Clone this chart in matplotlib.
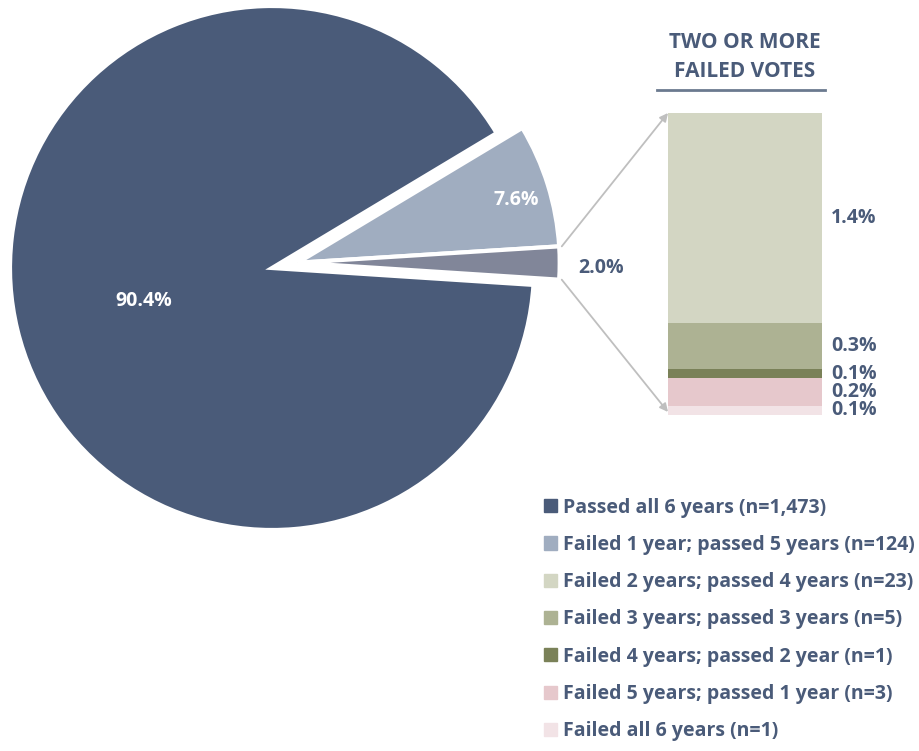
import numpy as np
import matplotlib
matplotlib.use('Agg')
import matplotlib.pyplot as plt
from matplotlib.patches import Patch, ConnectionPatch

plt.rcParams['font.family'] = ['Open Sans', 'DejaVu Sans']
plt.rcParams['font.weight'] = 'bold'

# 数据
pie_labels = ['Passed all 6 years (n=1,473)', 'Failed 1 year; passed 5 years (n=124)', 'Two or more failed votes']
pie_counts = [1473, 124, 33]
pie_pct = ['90.4%', '7.6%', '2.0%']
pie_colors = ['#4a5b79', '#a0adc0', '#818699']

bar_labels = ['Failed 2 years; passed 4 years (n=23)', 'Failed 3 years; passed 3 years (n=5)',
              'Failed 4 years; passed 2 year (n=1)', 'Failed 5 years; passed 1 year (n=3)',
              'Failed all 6 years (n=1)']
bar_counts = [23, 5, 1, 3, 1]
bar_pct = ['1.4%', '0.3%', '0.1%', '0.2%', '0.1%']
bar_colors = ['#d3d6c3', '#adb293', '#7a8158', '#e6c8cc', '#f2e3e6']

navy = '#4a5b79'
W, H = 920, 751
fig = plt.figure(figsize=(W / 100, H / 100), dpi=100)

# 饼图 (R px = 1 单位)
cx, cy, R = 272, 268, 262
ax = fig.add_axes([0, (H - 560) / H, 600 / W, 560 / H])
wedges, _ = ax.pie(pie_counts, colors=pie_colors, startangle=-3.7, counterclock=False,
                   wedgeprops=dict(edgecolor='white', linewidth=3))
ax.set_xlim((0 - cx) / R, (600 - cx) / R)
ax.set_ylim((cy - 560) / R, (cy - 0) / R)
ax.set_aspect('equal')
ax.axis('off')

off = np.array([0.098, 0.02])
for w in wedges[1:]:
    w.set_center(tuple(off))

fs = 14
ax.text(-0.49, -0.127, pie_pct[0], color='white', fontsize=fs, ha='center', va='center')
ax.text(off[0] + 0.835, off[1] + 0.24, pie_pct[1], color='white', fontsize=fs, ha='center', va='center')
ax.text(1.255, 0.0, pie_pct[2], color=navy, fontsize=fs, ha='center', va='center')

# 堆叠柱
bx0, bx1, by0, by1 = 668, 822, 113, 415
ax2 = fig.add_axes([bx0 / W, (H - by1) / H, (bx1 - bx0) / W, (by1 - by0) / H])
bottom = 0
stack = list(zip(bar_counts, bar_pct, bar_colors))[::-1]
for c, p, col in stack:
    ax2.bar(0, c, width=1, bottom=bottom, color=col)
    ax2.text(1.06, bottom + c / 2, p, transform=ax2.get_yaxis_transform(),
             color=navy, fontsize=fs, ha='left', va='center')
    bottom += c
ax2.set_xlim(-0.5, 0.5)
ax2.set_ylim(0, sum(bar_counts))
ax2.axis('off')

ax2.text(0.5, (by1 - 57) / (by1 - by0), 'TWO OR MORE\nFAILED VOTES', transform=ax2.transAxes,
         color=navy, fontsize=15, ha='center', va='center', linespacing=1.5)
ax2.plot([(657 - bx0) / (bx1 - bx0), (825 - bx0) / (bx1 - bx0)],
         [(by1 - 90) / (by1 - by0)] * 2, transform=ax2.transAxes, clip_on=False,
         color='#6b7a8f', lw=2)

# 连接线
g = wedges[2]
for ang, yb in [(max(g.theta1, g.theta2), 1.0), (min(g.theta1, g.theta2), 0.01)]:
    a = np.deg2rad(ang)
    xa = (off[0] + np.cos(a) + 0.01, off[1] + np.sin(a))
    con = ConnectionPatch(xyA=xa, coordsA=ax.transData, xyB=(0, yb), coordsB=ax2.transAxes,
                          arrowstyle='-|>', mutation_scale=12, color='#bfbfbf', lw=1.3)
    fig.add_artist(con)

# 图例
handles = [Patch(color=c) for c in pie_colors[:2] + bar_colors]
labels = pie_labels[:2] + bar_labels
fig.legend(handles, labels, loc='upper left', bbox_to_anchor=(527 / W, 1 - 480 / H),
           frameon=False, fontsize=14, handlelength=0.66, handleheight=0.66,
           handletextpad=0.3, labelspacing=0.89, labelcolor=navy)

fig.savefig('out.png', dpi=100)
